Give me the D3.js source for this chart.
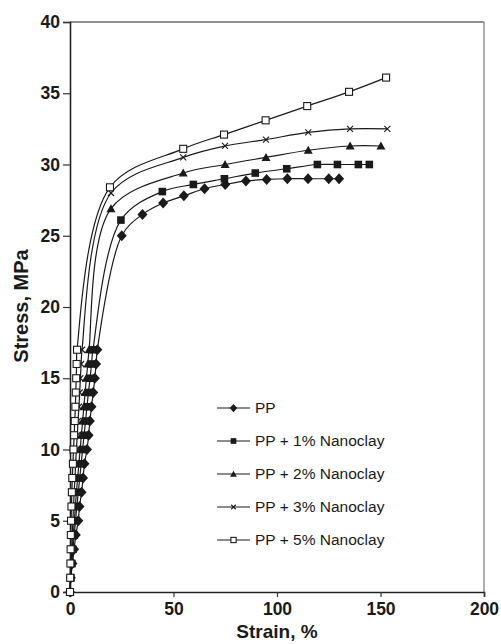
<!DOCTYPE html>
<html>
<head>
<meta charset="utf-8">
<script src="https://cdn.jsdelivr.net/npm/d3@7"></script>
<style>
  html, body { margin: 0; padding: 0; background: #fff; }
  svg { display: block; }
</style>
</head>
<body>
<svg id="chart" width="501" height="644"></svg>
<script>
// Tensile stress–strain curves of PP and PP/nanoclay composites
const seriesNames = ["PP", "PP + 1% Nanoclay", "PP + 2% Nanoclay", "PP + 3% Nanoclay", "PP + 5% Nanoclay"];
const seriesSymbols = ["diamond", "square", "triangle", "cross", "openSquare"];

const strainPP  = [0, 0.4, 1.2, 2.0, 2.8, 4.0, 4.6, 5.6, 6.3, 7.0, 8.2, 9.0, 9.6, 10.4, 11.2, 12.0, 12.6, 13.2,
                   25, 35, 45, 55, 65, 75, 85, 95, 105, 115, 125, 130];
const stressPP  = [0, 1, 2, 3, 4, 5, 6, 7, 8, 9, 10, 11, 12, 13, 14, 15, 16, 17,
                   25.0, 26.5, 27.3, 27.8, 28.3, 28.6, 28.85, 28.95, 29.0, 29.0, 29.0, 29.0];

const strainNC1 = [0, 0.4, 0.9, 1.4, 2.0, 2.7, 3.3, 4.0, 4.7, 5.4, 6.1, 6.8, 7.5, 8.2, 8.9, 9.7, 10.4, 11.1,
                   24.6, 44.6, 59.6, 74.6, 89.5, 104.7, 119.5, 129.2, 139.3, 144.6];
const stressNC1 = [0, 1, 2, 3, 4, 5, 6, 7, 8, 9, 10, 11, 12, 13, 14, 15, 16, 17,
                   26.1, 28.1, 28.6, 29.0, 29.4, 29.7, 30.0, 30.0, 30.0, 30.0];

const strainNC2 = [0, 0.3, 0.7, 1.1, 1.6, 2.1, 2.6, 3.1, 3.7, 4.3, 4.9, 5.5, 6.1, 6.7, 7.3, 7.9, 8.6, 9.2,
                   19.8, 54.7, 74.9, 94.7, 115.1, 135.3, 150.2];
const stressNC2 = [0, 1, 2, 3, 4, 5, 6, 7, 8, 9, 10, 11, 12, 13, 14, 15, 16, 17,
                   26.9, 29.4, 30.0, 30.5, 31.0, 31.3, 31.3];

const strainNC3 = [0, 0.2, 0.5, 0.8, 1.1, 1.4, 1.7, 2.0, 2.4, 2.7, 3.1, 3.5, 3.9, 4.3, 4.7, 5.0, 5.4, 5.8,
                   19.8, 54.7, 74.9, 94.7, 115.1, 135.3, 153.3];
const stressNC3 = [0, 1, 2, 3, 4, 5, 6, 7, 8, 9, 10, 11, 12, 13, 14, 15, 16, 17,
                   28.0, 30.5, 31.3, 31.75, 32.25, 32.5, 32.5];

const strainNC5 = [0, 0.1, 0.2, 0.3, 0.4, 0.5, 0.7, 0.9, 1.1, 1.4, 1.7, 2.0, 2.3, 2.6, 2.8, 3.0, 3.2, 3.4,
                   19.3, 54.7, 74.4, 94.5, 114.6, 134.8, 152.7];
const stressNC5 = [0, 1, 2, 3, 4, 5, 6, 7, 8, 9, 10, 11, 12, 13, 14, 15, 16, 17,
                   28.4, 31.1, 32.1, 33.1, 34.1, 35.1, 36.1];

const xTicks = [0, 50, 100, 150, 200];
const yTicks = [0, 5, 10, 15, 20, 25, 30, 35, 40];

const strains  = [strainPP, strainNC1, strainNC2, strainNC3, strainNC5];
const stresses = [stressPP, stressNC1, stressNC2, stressNC3, stressNC5];

const series = seriesNames.map((name, i) => ({
  name,
  symbol: seriesSymbols[i],
  points: strains[i].map((s, j) => ({ x: s, y: stresses[i][j] }))
}));

const svg = d3.select("#chart");
const plotLeft = 70, plotRight = 484, plotTop = 22, plotBottom = 592;

const x = d3.scaleLinear().domain([0, 200]).range([plotLeft, plotRight]);
const y = d3.scaleLinear().domain([0, 40]).range([plotBottom, plotTop]);

const ink = "#1a1a1a";
const fontFamily = "Arial, 'Liberation Sans', Helvetica, sans-serif";

// plot frame: top and right edges
svg.append("line").attr("x1", plotLeft).attr("x2", plotRight).attr("y1", plotTop).attr("y2", plotTop)
  .attr("stroke", "#222").attr("stroke-width", 1.2);
svg.append("line").attr("x1", plotRight).attr("x2", plotRight).attr("y1", plotTop).attr("y2", plotBottom)
  .attr("stroke", "#777").attr("stroke-width", 1.2);

// axes
const xAxis = d3.axisBottom(x).tickValues(xTicks).tickSize(5).tickPadding(6).tickFormat(d3.format("d"));
const yAxis = d3.axisLeft(y).tickValues(yTicks).tickSize(7).tickPadding(3).tickFormat(d3.format("d"));

const gx = svg.append("g").attr("transform", `translate(0,${plotBottom})`).call(xAxis);
const gy = svg.append("g").attr("transform", `translate(${plotLeft},0)`).call(yAxis);

[gx, gy].forEach(g => {
  g.select(".domain").attr("stroke", "#222").attr("stroke-width", 1.6);
  g.selectAll(".tick line").attr("stroke", "#333").attr("stroke-width", 1.2);
  g.selectAll(".tick text")
    .attr("fill", "#1a1a1a")
    .style("font-family", fontFamily)
    .style("font-weight", "bold")
    .style("font-size", "17.5px");
});

// axis titles
svg.append("text")
  .attr("x", 277).attr("y", 638)
  .attr("text-anchor", "middle")
  .style("font-family", fontFamily).style("font-weight", "bold").style("font-size", "19px")
  .attr("fill", "#1a1a1a")
  .text("Strain, %");

svg.append("text")
  .attr("transform", "translate(28,306) rotate(-90)")
  .attr("text-anchor", "middle")
  .style("font-family", fontFamily).style("font-weight", "bold").style("font-size", "20px")
  .attr("fill", "#1a1a1a")
  .text("Stress, MPa");

// markers
function drawMarker(g, symbol, cx, cy, s) {
  if (symbol === "diamond") {
    g.append("path")
      .attr("d", `M${cx},${cy - s * 0.55}L${cx + s * 0.5},${cy}L${cx},${cy + s * 0.55}L${cx - s * 0.5},${cy}Z`)
      .attr("fill", ink);
  } else if (symbol === "square") {
    g.append("rect").attr("x", cx - s * 0.38).attr("y", cy - s * 0.38)
      .attr("width", s * 0.76).attr("height", s * 0.76).attr("fill", ink);
  } else if (symbol === "triangle") {
    g.append("path")
      .attr("d", `M${cx},${cy - s * 0.45}L${cx + s * 0.45},${cy + s * 0.35}L${cx - s * 0.45},${cy + s * 0.35}Z`)
      .attr("fill", ink);
  } else if (symbol === "cross") {
    const r = s * 0.3;
    g.append("path")
      .attr("d", `M${cx - r},${cy - r}L${cx + r},${cy + r}M${cx - r},${cy + r}L${cx + r},${cy - r}`)
      .attr("stroke", ink).attr("stroke-width", 1.1).attr("fill", "none");
  } else if (symbol === "openSquare") {
    g.append("rect").attr("x", cx - s * 0.35).attr("y", cy - s * 0.35)
      .attr("width", s * 0.7).attr("height", s * 0.7)
      .attr("fill", "#fff").attr("stroke", ink).attr("stroke-width", 1.1);
  }
}

const line = d3.line()
  .x(d => x(d.x))
  .y(d => y(d.y))
  .curve(d3.curveCatmullRom.alpha(0.5));

const plot = svg.append("g");
series.forEach(s => {
  plot.append("path")
    .attr("d", line(s.points))
    .attr("fill", "none")
    .attr("stroke", ink)
    .attr("stroke-width", 1.2);
});
series.forEach(s => {
  const g = plot.append("g");
  s.points.forEach(p => drawMarker(g, s.symbol, x(p.x), y(p.y), 10));
});

// legend
const legendX = 217, legendY = 408, legendGap = 33;
const legend = svg.append("g");
series.forEach((s, i) => {
  const ly = legendY + i * legendGap;
  legend.append("line").attr("x1", legendX).attr("x2", legendX + 33)
    .attr("y1", ly).attr("y2", ly).attr("stroke", ink).attr("stroke-width", 1.2);
  drawMarker(legend, s.symbol, legendX + 16.5, ly, 7.5);
  legend.append("text")
    .attr("x", legendX + 38).attr("y", ly)
    .attr("dy", "0.35em")
    .style("font-family", fontFamily).style("font-size", "15.5px")
    .attr("fill", "#1a1a1a")
    .text(s.name);
});
</script>
</body>
</html>
